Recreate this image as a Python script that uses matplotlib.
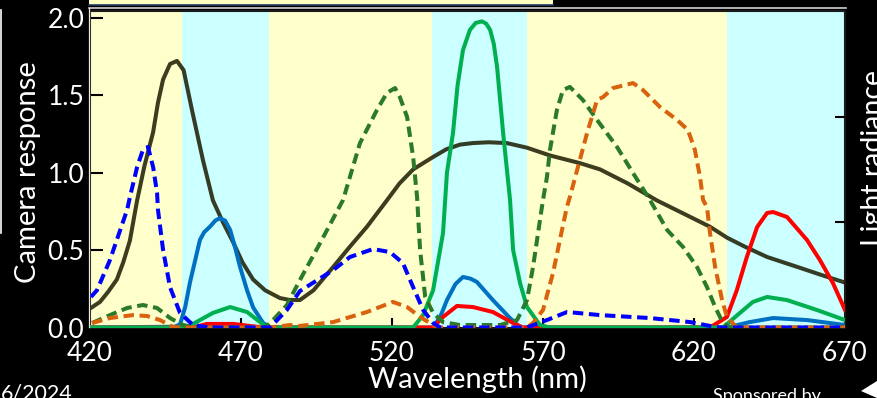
import numpy as np
import matplotlib
matplotlib.use("Agg")
import matplotlib.pyplot as plt
from matplotlib.patches import Rectangle, Polygon
from matplotlib.lines import Line2D

plt.rcParams['font.family'] = ['Lato', 'DejaVu Sans']

# background bands (nm)
band_edges = [420, 450.5, 479.3, 533.2, 564.7, 630.9, 670]
band_colors = ['#FFFFCC', '#CCFFFF', '#FFFFCC', '#CCFFFF', '#FFFFCC', '#CCFFFF']

# light radiance (black)
rad_nm = [420.3, 423.3, 426, 428.9, 431, 433.2, 435.6, 438, 440.9, 442.5, 444.2, 446.5, 448.8, 451,
          453.8, 457.4, 460.7, 464, 467.4, 470.5, 474, 478, 482.9, 486, 489.5, 494, 500.5, 506,
          511.7, 518.3, 522.5, 527, 533.6, 538, 542.5, 546.8, 552, 558, 564.7, 572.3, 582.3,
          588.9, 598, 607.7, 616, 625.3, 630.9, 637, 644.2, 655.1, 662, 670]
rad_val = [0.126, 0.165, 0.23, 0.31, 0.42, 0.56, 0.82, 1.04, 1.26, 1.45, 1.6, 1.70, 1.72, 1.66,
           1.40, 1.08, 0.82, 0.68, 0.55, 0.42, 0.31, 0.24, 0.19, 0.178, 0.177, 0.24, 0.39, 0.52,
           0.65, 0.82, 0.93, 1.02, 1.10, 1.15, 1.18, 1.19, 1.195, 1.19, 1.16, 1.11, 1.06,
           1.02, 0.93, 0.82, 0.74, 0.65, 0.58, 0.52, 0.455, 0.385, 0.34, 0.29]

# camera response curves
bdash_nm = [420.3, 422.3, 426.6, 432.3, 433.2, 435.6, 437.5, 439.2, 440.9, 442.2, 442.5, 444.2,
            446.5, 449.8, 454.1, 459.7, 479.6, 485.2, 489.5, 500.5, 506.1, 513.7, 519.3, 523.6,
            527, 530.3, 533.6, 535.9, 564.7, 571.3, 578, 588.9, 605.4, 618.7, 625.3, 628.6, 670]
bdash_val = [0.197, 0.24, 0.435, 0.76, 0.84, 1.035, 1.145, 1.165, 1.035, 0.87, 0.76, 0.5,
             0.26, 0.094, 0.016, 0, 0, 0.113, 0.235, 0.37, 0.455, 0.506, 0.487, 0.416,
             0.26, 0.113, 0.03, 0, 0, 0.048, 0.10, 0.08, 0.061, 0.035, 0.01, 0, 0]

blue_nm = [420, 448, 449.8, 451.5, 453.1, 456.4, 457.8, 459.7, 461.5, 463, 464.7, 466.4, 468,
           469.7, 472, 474, 477.3, 479.6, 533.6, 536, 538.2, 541, 543.5, 546, 548.1, 553.4,
           559.1, 562.4, 630.9, 638.5, 646.2, 657.4, 670]
blue_val = [0, 0.005, 0.02, 0.13, 0.29, 0.565, 0.615, 0.65, 0.69, 0.705, 0.69, 0.63, 0.52,
            0.39, 0.24, 0.13, 0.03, 0, 0, 0.07, 0.177, 0.28, 0.326, 0.315, 0.294, 0.177,
            0.06, 0, 0, 0.035, 0.061, 0.048, 0.016]

green_nm = [420, 452.1, 456.4, 460.7, 466.4, 472, 476.3, 478.6, 527, 530.3, 533.6, 536.9, 538.2,
            540.2, 541.7, 543.5, 545.8, 547.7, 549.8, 551.2, 552.5, 553.7, 554.8, 556.8, 559.1,
            560.1, 562.4, 564.7, 569, 572.3, 629.6, 635.2, 639.5, 644.2, 650.8, 660.7, 670]
green_val = [0, 0, 0.048, 0.094, 0.132, 0.10, 0.035, 0, 0, 0.08, 0.24, 0.61, 1.0,
             1.255, 1.56, 1.79, 1.92, 1.965, 1.975, 1.96, 1.92, 1.83, 1.68, 1.255, 0.82,
             0.5, 0.287, 0.132, 0.016, 0, 0, 0.094, 0.165, 0.197, 0.177, 0.113, 0.048]

red_nm = [420, 454.1, 458.7, 467.4, 477.3, 533.6, 536.9, 541.5, 546.8, 553.4, 560.1, 563.4,
          625.3, 630.9, 634.2, 637.5, 640.9, 644.2, 646.2, 650.8, 657.4, 661.7, 666, 670]
red_val = [0, 0, 0.023, 0.023, 0, 0, 0.068, 0.139, 0.132, 0.10, 0.029, 0,
           0, 0.068, 0.242, 0.455, 0.648, 0.739, 0.745, 0.713, 0.565, 0.435, 0.287, 0.113]

gdash_nm = [420.7, 426.6, 432.3, 437.5, 442.2, 446.5, 450.8, 454.8, 478, 480.6, 485.2, 489.5,
            496.2, 503.8, 509.4, 515, 518.3, 521, 522.6, 525, 527, 528.3, 529.3, 531, 533.6,
            536.9, 542.5, 555.8, 561.4, 564.7, 566.7, 569, 570, 571.3, 572.3, 574.6, 576.6,
            578.9, 583.2, 587.9, 594.5, 599.8, 605.4, 611.1, 616.4, 621, 624.3, 627, 629.6,
            631.9, 670]
gdash_val = [0.029, 0.08, 0.126, 0.145, 0.126, 0.061, 0.016, 0, 0, 0.048, 0.145, 0.306,
             0.545, 0.823, 1.19, 1.403, 1.513, 1.545, 1.487, 1.358, 1.1, 0.842, 0.5, 0.197, 0.094,
             0.035, 0.016, 0.016, 0.048, 0.177, 0.39, 0.694, 0.823, 0.97, 1.145, 1.403, 1.532,
             1.552, 1.468, 1.339, 1.165, 0.997, 0.823, 0.629, 0.519, 0.39, 0.261, 0.132, 0.029,
             0, 0]

odash_nm = [420.7, 426.6, 434.2, 438.9, 443.2, 447.5, 449.8, 479.6, 486.2, 489.5, 500.5, 511.7,
            520.3, 525, 529.3, 533.6, 535.9, 564.7, 566.7, 570, 573.3, 575.6, 577.9, 578.9,
            581.3, 584.6, 587.9, 589.9, 593.2, 599.8, 603.1, 608.7, 614.4, 618, 620.3, 622,
            623, 624.3, 625.3, 627, 629.3, 630.9, 634.2, 670]
odash_val = [0.029, 0.061, 0.08, 0.074, 0.048, 0.003, 0, 0, 0.016, 0.01, 0.035, 0.10,
             0.165, 0.132, 0.068, 0.016, 0, 0, 0.029, 0.113, 0.35, 0.565, 0.777, 0.842,
             1.016, 1.255, 1.468, 1.487, 1.545, 1.577, 1.532, 1.423, 1.339, 1.274, 1.145, 0.971,
             0.823, 0.777, 0.61, 0.39, 0.177, 0.068, 0, 0]

x_ticks = [420, 470, 520, 570, 620, 670]
y_ticks = [0.0, 0.5, 1.0, 1.5, 2.0]

W, H = 877, 398
fig = plt.figure(figsize=(W / 100, H / 100), dpi=100, facecolor='black')
ax = fig.add_axes([90 / W, (H - 327.5) / H, (845 - 90) / W, (327.5 - 11) / H])

for i in range(len(band_colors)):
    ax.axvspan(band_edges[i], band_edges[i + 1], color=band_colors[i], lw=0, zorder=0)

lw = 2.9
dash = (2.6, 1.4)
ax.plot(rad_nm, rad_val, color='#1a1a00', alpha=0.85, lw=lw, zorder=2)
ax.plot(blue_nm, blue_val, color='#0070C0', lw=lw, zorder=3)
ax.plot(red_nm, red_val, color='#FF0000', lw=lw, zorder=3)
ax.plot(green_nm, green_val, color='#00B050', lw=lw, zorder=3)
ax.plot(gdash_nm, gdash_val, color='#2A7A2A', lw=lw, dashes=dash, zorder=4)
ax.plot(odash_nm, odash_val, color='#D9620F', lw=lw, dashes=dash, zorder=4)
ax.plot(bdash_nm, bdash_val, color='#0000FF', lw=lw, dashes=dash, zorder=5)

ax.set_xlim(420, 670)
ax.set_ylim(0, 2.042)
ax.set_xticks(x_ticks)
ax.set_yticks(y_ticks)
ax.set_yticklabels(['0.0', '0.5', '1.0', '1.5', '2.0'])
ax.tick_params(axis='both', direction='in', color='black', labelcolor='white',
               labelsize=19, width=1.5)
ax.tick_params(axis='y', length=9, pad=4)
ax.tick_params(axis='x', length=7, pad=10)
for s in ax.spines.values():
    s.set_color('#1a1a1a')
    s.set_linewidth(1.5)

ax2 = ax.twinx()
ax2.set_ylim(0, 3)
ax2.set_yticks([1, 2])
ax2.tick_params(axis='y', direction='in', length=7, width=1.5, color='black', labelright=False)
for s in ax2.spines.values():
    s.set_visible(False)

# labels
fig.text(28 / W, 1 - 172 / H, 'Camera response', color='white', fontsize=21,
         rotation=90, ha='center', va='center')
fig.text(477 / W, 1 - 379 / H, 'Wavelength (nm)', color='white', fontsize=21,
         ha='center', va='center')
fig.text(874 / W, 1 - 158 / H, 'Light radiance', color='white', fontsize=20.5,
         rotation=90, ha='center', va='center')
fig.text(73 / W, 1 - 384 / H, '6/2024', color='white', fontsize=15.5, ha='right', va='top')
fig.text(767 / W, 1 - 388 / H, 'Sponsored by', color='white', fontsize=13, ha='center', va='top')

# slide decorations
tr = fig.transFigure
def px(x, y):
    return (x / W, 1 - y / H)
fig.patches.append(Rectangle(px(89, 4.5), 464 / W, 4.5 / H, transform=tr,
                             facecolor='#FFFFC0', edgecolor='none'))
fig.lines.append(Line2D([89 / W, 553 / W], [1 - 5 / H] * 2, transform=tr, color='#1F3864', lw=1.2))
fig.lines.append(Line2D([89 / W, 846 / W], [1 - 8 / H] * 2, transform=tr, color='#D0D0D0', lw=1.2))
fig.lines.append(Line2D([89 / W] * 2, [1 - 8 / H, 1 - 327 / H], transform=tr, color='#E8E8E8', lw=0.9))
fig.lines.append(Line2D([0.5 / W] * 2, [1 - 10 / H, 1 - 233 / H], transform=tr, color='white', lw=1.2))
fig.patches.append(Polygon([px(861, 391), px(877, 381), px(877, 398)], closed=True,
                           transform=tr, facecolor='white', edgecolor='none'))

fig.savefig('out.png', dpi=100, facecolor='black')
